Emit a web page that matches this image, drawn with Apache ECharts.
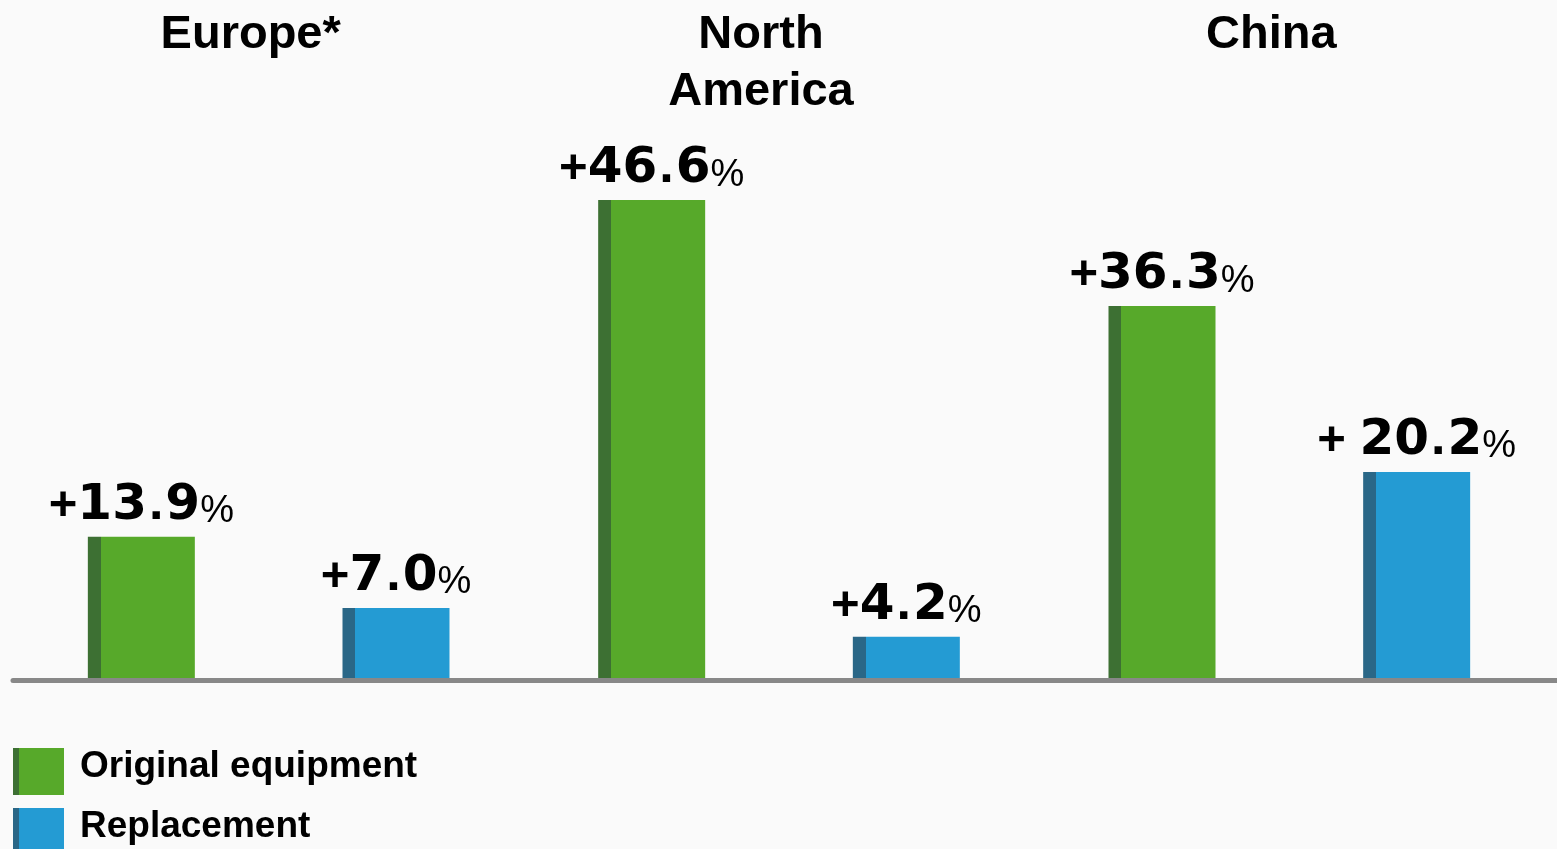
<!DOCTYPE html>
<html>
<head>
<meta charset="utf-8">
<style>
  html, body { margin: 0; padding: 0; background: #fafafa; }
  #chart { width: 1557px; height: 849px; }
</style>
<script src="https://cdn.jsdelivr.net/npm/echarts@6/dist/echarts.min.js"></script>
</head>
<body>
<div id="chart"></div>
<script>
// Regions shown along the top
const regions = ['Europe*', 'North\nAmerica', 'China'];

// Growth rates in percent
const originalEquipment = [13.9, 46.6, 36.3];
const replacement = [7.0, 4.2, 20.2];

// Sign written in front of each value label
const originalSigns = ['+', '+', '+'];
const replacementSigns = ['+', '+', '+ '];

const seriesNames = ['Original equipment', 'Replacement'];

// Flat bar colour with a darker strip down the left edge
function stripedFill(edge, face, cut) {
  return new echarts.graphic.LinearGradient(0, 0, 1, 0, [
    { offset: 0, color: edge },
    { offset: cut, color: edge },
    { offset: cut, color: face },
    { offset: 1, color: face }
  ]);
}

function valueLabel(signs) {
  return function (p) {
    const parts = p.value.toFixed(1).split('.');
    return '{p|' + signs[p.dataIndex] + '}{n|' + parts[0] + '}{d|.}{n|' + parts[1] + '}{c|%}';
  };
}

const labelRich = {
  p: { fontFamily: 'Liberation Sans', fontWeight: 'bold', fontSize: 49, color: '#000', lineHeight: 54, verticalAlign: 'bottom' },
  n: { fontFamily: 'DejaVu Sans', fontWeight: 'bold', fontSize: 50, color: '#000', lineHeight: 52, verticalAlign: 'bottom' },
  d: { fontFamily: 'Liberation Sans', fontWeight: 'bold', fontSize: 52, color: '#000', lineHeight: 57, verticalAlign: 'bottom', padding: [0, 2, 0, 2] },
  c: { fontFamily: 'Liberation Sans', fontWeight: 'normal', fontSize: 38, color: '#000', lineHeight: 46, verticalAlign: 'bottom' }
};

const chart = echarts.init(document.getElementById('chart'), null, { renderer: 'canvas' });

chart.setOption({
  backgroundColor: '#fafafa',
  animation: false,
  legend: {
    orient: 'vertical',
    left: 13,
    top: 748,
    height: 140,
    padding: 0,
    itemWidth: 51,
    itemHeight: 47,
    itemGap: 13,
    icon: 'rect',
    data: seriesNames,
    formatter: '{t|{name}}',
    textStyle: {
      padding: [0, 0, 0, 11],
      rich: {
        t: {
          fontFamily: 'Liberation Sans',
          fontWeight: 'bold',
          fontSize: 37,
          lineHeight: 37,
          color: '#000',
          padding: [0, 0, 9, 0]
        }
      }
    }
  },
  grid: [
    { left: 13.5, right: 12.5, top: 62, bottom: 169 },
    { left: 13, right: 0, top: 62, bottom: 168.5 }
  ],
  xAxis: [
    {
      type: 'category',
      gridIndex: 0,
      data: regions,
      axisLine: { show: false },
      axisTick: { show: false },
      axisLabel: { show: false }
    },
    {
      type: 'category',
      gridIndex: 0,
      position: 'top',
      data: regions,
      axisLine: { show: false },
      axisTick: { show: false },
      axisLabel: {
        interval: 0,
        margin: 55,
        verticalAlign: 'top',
        fontFamily: 'Liberation Sans',
        fontWeight: 'bold',
        fontSize: 47,
        lineHeight: 57,
        color: '#000',
        padding: [0, 36, 0, 0]
      }
    },
    {
      // baseline rule across the full width
      type: 'category',
      gridIndex: 1,
      data: [''],
      z: 10,
      axisLine: { show: true, lineStyle: { color: '#888888', width: 5 } },
      axisTick: { show: false },
      axisLabel: { show: false }
    }
  ],
  yAxis: [
    { type: 'value', gridIndex: 0, min: 0, max: 60, show: false },
    { type: 'value', gridIndex: 1, min: 0, max: 60, show: false }
  ],
  series: [
    {
      name: seriesNames[0],
      type: 'bar',
      xAxisIndex: 0,
      yAxisIndex: 0,
      data: originalEquipment,
      barWidth: 107,
      barGap: '138%',
      itemStyle: { color: stripedFill('#3d7033', '#57a92a', 0.12) },
      label: {
        show: true,
        position: 'top',
        distance: 6,
        formatter: valueLabel(originalSigns),
        rich: labelRich
      }
    },
    {
      name: seriesNames[1],
      type: 'bar',
      xAxisIndex: 0,
      yAxisIndex: 0,
      data: replacement,
      barWidth: 107,
      barGap: '138%',
      itemStyle: { color: stripedFill('#2a6787', '#249bd3', 0.12) },
      label: {
        show: true,
        position: 'top',
        distance: 6,
        formatter: valueLabel(replacementSigns),
        rich: labelRich
      }
    }
  ]
});
</script>
</body>
</html>
